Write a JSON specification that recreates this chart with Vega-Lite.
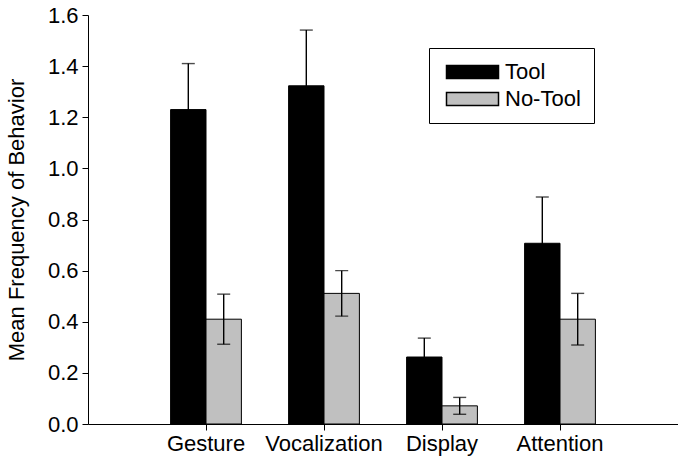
{
  "$schema": "https://vega.github.io/schema/vega-lite/v6.json",
  "autosize": {"type": "none"},
  "width": 590,
  "height": 409,
  "padding": {"left": 88, "top": 15, "right": 0, "bottom": 39},
  "background": "white",
  "config": {
    "font": "Liberation Sans",
    "view": {"stroke": null},
    "axis": {"grid": false, "domainColor": "black", "tickColor": "black", "labelColor": "black", "titleColor": "black", "labelFont": "Liberation Sans", "titleFont": "Liberation Sans"}
  },
  "data": {
    "values": [
      {"behavior": "Gesture", "condition": "Tool", "mean": 1.23, "lo": 1.05, "hi": 1.41},
      {"behavior": "Gesture", "condition": "No-Tool", "mean": 0.41, "lo": 0.312, "hi": 0.508},
      {"behavior": "Vocalization", "condition": "Tool", "mean": 1.323, "lo": 1.105, "hi": 1.541},
      {"behavior": "Vocalization", "condition": "No-Tool", "mean": 0.511, "lo": 0.422, "hi": 0.6},
      {"behavior": "Display", "condition": "Tool", "mean": 0.262, "lo": 0.188, "hi": 0.336},
      {"behavior": "Display", "condition": "No-Tool", "mean": 0.071, "lo": 0.038, "hi": 0.104},
      {"behavior": "Attention", "condition": "Tool", "mean": 0.707, "lo": 0.526, "hi": 0.888},
      {"behavior": "Attention", "condition": "No-Tool", "mean": 0.41, "lo": 0.309, "hi": 0.511}
    ]
  },
  "encoding": {
    "x": {
      "field": "behavior", "type": "nominal",
      "sort": ["Gesture", "Vocalization", "Display", "Attention"],
      "scale": {"paddingInner": 0.4, "paddingOuter": 0.7},
      "axis": {"title": null, "labelAngle": 0, "labelFontSize": 22, "labelPadding": 3, "tickSize": 6, "domainWidth": 1, "tickWidth": 1}
    },
    "xOffset": {
      "field": "condition", "type": "nominal",
      "sort": ["Tool", "No-Tool"],
      "scale": {"paddingInner": 0, "paddingOuter": 0}
    }
  },
  "layer": [
    {
      "mark": {"type": "bar", "stroke": "black", "strokeWidth": 1},
      "encoding": {
        "y": {
          "field": "mean", "type": "quantitative",
          "scale": {"domain": [0, 1.6], "nice": false, "zero": true},
          "axis": {"title": "Mean Frequency of Behavior", "titleFontSize": 22, "titleFontWeight": "normal", "titlePadding": 19, "values": [0, 0.2, 0.4, 0.6, 0.8, 1.0, 1.2, 1.4, 1.6], "format": ".1f", "labelFontSize": 22, "labelPadding": 4, "tickSize": 6, "domainWidth": 1, "tickWidth": 1}
        },
        "color": {
          "field": "condition", "type": "nominal",
          "sort": ["Tool", "No-Tool"],
          "scale": {"domain": ["Tool", "No-Tool"], "range": ["#000000", "#c0c0c0"]},
          "legend": {
            "title": null,
            "orient": "none",
            "legendX": 341,
            "legendY": 33,
            "direction": "vertical",
            "symbolType": "M-1,-1H7V1H-1Z",
            "symbolSize": 169,
            "symbolStrokeColor": "black",
            "labelFontSize": 22,
            "labelColor": "black",
            "labelOffset": 41,
            "rowPadding": 5,
            "padding": 13,
            "strokeColor": "black",
            "fillColor": "white",
            "labelExpr": "datum.label + '     '"
          }
        }
      }
    },
    {
      "mark": {"type": "rule", "color": "#000000", "strokeWidth": 1.4},
      "encoding": {
        "y": {"field": "lo", "type": "quantitative"},
        "y2": {"field": "hi"}
      }
    },
    {
      "mark": {"type": "tick", "color": "#000000", "size": 13, "thickness": 1.4},
      "encoding": {"y": {"field": "hi", "type": "quantitative"}}
    },
    {
      "mark": {"type": "tick", "color": "#000000", "size": 13, "thickness": 1.4},
      "encoding": {"y": {"field": "lo", "type": "quantitative"}}
    }
  ]
}
